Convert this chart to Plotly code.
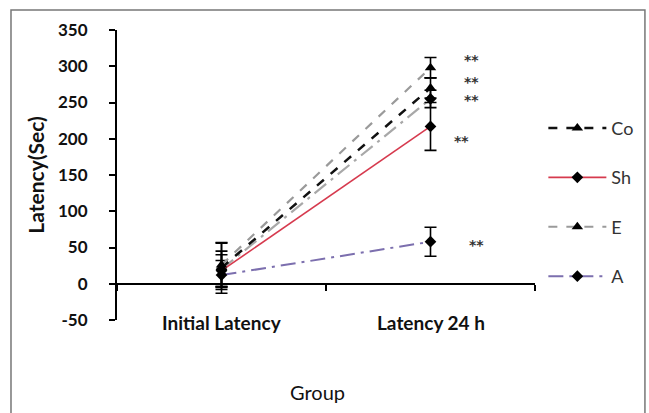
import plotly.graph_objects as go

groups = ["Initial Latency", "Latency 24 h"]
co_vals = [22, 270]
co_err = [35, 14]
sh_vals = [18, 217]
sh_err = [22, 33]
e_vals = [26, 298]
e_err = [30, 14]
a_vals = [12, 58]
a_err = [20, 20]
x_vals = [20, 255]
x_err = [25, 12]
y_ticks = [-50, 0, 50, 100, 150, 200, 250, 300, 350]
y_tick_text = ["-50", "0", "50", "100", "150", "200", "250", "300", "350"]
star_text = ["**", "**", "**", "**", "**"]
star_y = [313, 282, 258, 201, 58]
star_shift = [41, 41, 41, 31, 46]

styles = {
    "Co": dict(color="#111111", dash="dash", width=2.5, symbol="triangle-up", legend=True, rank=1),
    "Sh": dict(color="#d63a4e", dash="solid", width=1.6, symbol="diamond", legend=True, rank=2),
    "E": dict(color="#9a9a9a", dash="dash", width=2.2, symbol="triangle-up", legend=True, rank=3),
    "A": dict(color="#7c6fae", dash="longdashdot", width=2.0, symbol="diamond", legend=True, rank=4),
    "X": dict(color="#a8a8a8", dash="longdashdot", width=2.2, symbol="diamond", legend=False, rank=5),
}
data = {"Co": (co_vals, co_err), "Sh": (sh_vals, sh_err), "E": (e_vals, e_err),
        "A": (a_vals, a_err), "X": (x_vals, x_err)}

fig = go.Figure()
for name in ["X", "A", "Sh", "Co", "E"]:
    vals, err = data[name]
    s = styles[name]
    fig.add_trace(go.Scatter(
        x=groups, y=vals, name=name, mode="lines+markers",
        line=dict(color=s["color"], dash=s["dash"], width=s["width"]),
        marker=dict(symbol=s["symbol"], size=10 if s["symbol"] == "triangle-up" else 9, color="black"),
        error_y=dict(type="data", array=err, visible=True, color="black", thickness=1.6, width=6),
        showlegend=s["legend"], legendgroup=name, legendrank=s["rank"],
    ))

for txt, yv, sh in zip(star_text, star_y, star_shift):
    fig.add_annotation(x=groups[1], y=yv, text=txt, showarrow=False, xshift=sh, yshift=-3,
                       font=dict(family="DejaVu Sans", size=14, color="#333333", weight="bold"))

for g in groups:
    fig.add_annotation(x=g, y=-50, yref="y", text=g, showarrow=False,
                       yshift=-2, font=dict(family="Lato", size=19, color="#111111", weight="bold"))

fig.add_annotation(xref="paper", yref="paper", x=0.48, y=-0.295, text="Group", showarrow=False,
                   font=dict(family="Lato", size=20, color="#111111"))

fig.add_shape(type="rect", xref="paper", yref="paper", x0=-0.2536, x1=1.263, y0=-0.4, y1=1.069,
              line=dict(color="#777777", width=1.5))

fig.update_layout(
    width=649, height=413,
    margin=dict(l=117, r=114, t=30, b=93, autoexpand=False),
    paper_bgcolor="white", plot_bgcolor="white",
    font=dict(family="Lato", color="#111111"),
    showlegend=True,
    legend=dict(x=1.02, y=0.725, xanchor="left", yanchor="top", itemwidth=58,
                tracegroupgap=23, font=dict(family="Lato", size=18, color="#333333"),
                bgcolor="rgba(0,0,0,0)"),
    xaxis=dict(type="category", range=[-0.5, 1.5], anchor="free", position=0.125,
               showline=True, linecolor="black", linewidth=2,
               ticks="outside", tickson="boundaries", ticklen=6, tickwidth=2, tickcolor="black",
               showticklabels=False, showgrid=False, zeroline=False),
    yaxis=dict(range=[-50, 350], tickvals=y_ticks, ticktext=y_tick_text,
               showline=True, linecolor="black", linewidth=2,
               ticks="outside", ticklen=6, tickwidth=2, tickcolor="black",
               ticklabelstandoff=18,
               showgrid=False, zeroline=False,
               tickfont=dict(family="Lato", size=17, color="#111111", weight="bold"),
               title=dict(text="Latency(Sec)", font=dict(family="Lato", size=21, color="#111111", weight="bold"),
                          standoff=8)),
)

fig.write_html("out.html", config={"displayModeBar": False},
               post_script="document.body.style.margin='0';document.body.style.padding='0';")
